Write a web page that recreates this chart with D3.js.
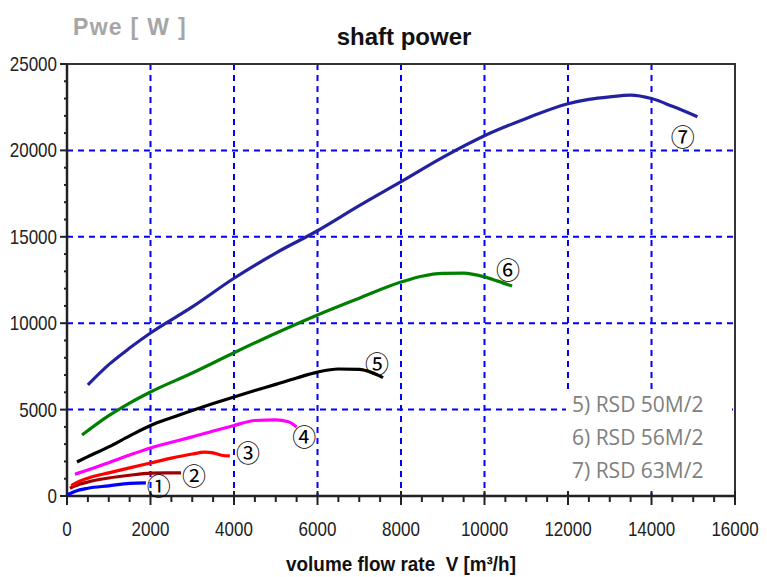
<!DOCTYPE html>
<html><head><meta charset="utf-8">
<script src="https://cdn.jsdelivr.net/npm/d3@7"></script>
<style>
html,body{margin:0;padding:0;background:#fff;}
svg{display:block;}
</style></head>
<body>
<svg id="chart" width="767" height="577"></svg>
<script>
// ---- data ----
const xTickValues = [0, 2000, 4000, 6000, 8000, 10000, 12000, 14000, 16000];
const yTickValues = [0, 5000, 10000, 15000, 20000, 25000];
const legendLines = ["5) RSD 50M/2", "6) RSD 56M/2", "7) RSD 63M/2"];
const markers = ["①", "②", "③", "④", "⑤", "⑥", "⑦"];

const s1x = [0, 200, 500, 1000, 1500, 1890];
const s1y = [60, 280, 450, 590, 730, 760];
const s2x = [70, 300, 500, 1000, 1500, 2000, 2400, 2730];
const s2y = [450, 680, 810, 1040, 1200, 1320, 1340, 1340];
const s3x = [100, 300, 500, 1000, 1500, 2000, 2500, 3000, 3300, 3500, 3700, 3900];
const s3y = [600, 850, 1030, 1340, 1630, 1910, 2190, 2430, 2540, 2500, 2360, 2320];
const s4x = [190, 500, 1000, 1500, 2000, 2500, 3000, 3500, 4000, 4500, 5000, 5300, 5500];
const s4y = [1260, 1500, 1930, 2370, 2780, 3110, 3420, 3760, 4080, 4370, 4400, 4300, 4000];
const s5x = [240, 500, 1000, 1500, 2000, 2500, 3000, 3500, 4000, 4500, 5000, 5500, 6000, 6500, 7000, 7300, 7570];
const s5y = [1970, 2280, 2840, 3480, 4080, 4530, 4950, 5350, 5730, 6100, 6460, 6830, 7170, 7350, 7330, 7150, 6850];
const s6x = [360, 1000, 1500, 2000, 3000, 4000, 5000, 6000, 7000, 8000, 8500, 9000, 9500, 10000, 10300, 10660];
const s6y = [3530, 4650, 5380, 6020, 7120, 8290, 9420, 10480, 11450, 12380, 12720, 12880, 12900, 12680, 12450, 12150];
const s7x = [500, 1000, 1500, 2000, 3000, 4000, 5000, 6000, 7000, 8000, 9000, 10000, 11000, 12000, 12500, 13000, 13500, 14000, 14500, 15100];
const s7y = [6430, 7600, 8560, 9430, 10940, 12600, 14060, 15350, 16800, 18190, 19600, 20850, 21850, 22700, 22950, 23100, 23200, 23000, 22550, 21950];

// marker anchor values (x, y in data units)
const markerX = [2200, 3040, 4335, 5680, 7425, 10560, 14750];
const markerY = [690, 1270, 2600, 3530, 7700, 13140, 20890];

const seriesColors = ["#0000ff", "#a00000", "#ff0000", "#ff00ff", "#000000", "#008000", "#2222a0"];

// ---- layout ----
const svg = d3.select("#chart");
const x = d3.scaleLinear().domain([0, 16000]).range([67, 735]);
const y = d3.scaleLinear().domain([0, 25000]).range([496, 64]);

// grid
const g = svg.append("g");
g.selectAll("line.vg").data(xTickValues.slice(1, -1)).enter().append("line")
  .attr("x1", d => x(d)).attr("x2", d => x(d)).attr("y1", y(25000)).attr("y2", y(0))
  .attr("stroke", "#0000ff").attr("stroke-width", 2).attr("stroke-dasharray", "6,5");
g.selectAll("line.hg").data(yTickValues.slice(1, -1)).enter().append("line")
  .attr("x1", x(0)).attr("x2", x(16000)).attr("y1", d => y(d)).attr("y2", d => y(d))
  .attr("stroke", "#0000ff").attr("stroke-width", 2).attr("stroke-dasharray", "6,5");

// legend background box
svg.append("rect").attr("x", 566).attr("y", 392).attr("width", 166).attr("height", 98).attr("fill", "#fff");

// frame
svg.append("rect").attr("x", x(0)).attr("y", y(25000)).attr("width", x(16000) - x(0)).attr("height", y(0) - y(25000))
  .attr("fill", "none").attr("stroke", "#333").attr("stroke-width", 2);

// axes
const minorX = d3.range(0, 16001, 500);
const minorY = d3.range(0, 25001, 1000);
svg.append("g").selectAll("line").data(minorX).enter().append("line")
  .attr("x1", d => x(d)).attr("x2", d => x(d))
  .attr("y1", d => d % 2000 === 0 ? y(0) - 5 : y(0)).attr("y2", d => d % 2000 === 0 ? y(0) + 9 : y(0) + 6)
  .attr("stroke", "#222").attr("stroke-width", 2);
svg.append("g").selectAll("line").data(minorY).enter().append("line")
  .attr("y1", d => y(d)).attr("y2", d => y(d))
  .attr("x1", d => d % 5000 === 0 ? x(0) - 7 : x(0) - 3).attr("x2", x(0))
  .attr("stroke", "#222").attr("stroke-width", 2);
svg.append("line").attr("x1", x(0)).attr("x2", x(16000)).attr("y1", y(0)).attr("y2", y(0)).attr("stroke", "#222").attr("stroke-width", 2.5);
svg.append("line").attr("x1", x(0)).attr("x2", x(0)).attr("y1", y(0)).attr("y2", y(25000)).attr("stroke", "#222").attr("stroke-width", 2.5);

const tickFont = "'Liberation Sans', Arial, sans-serif";
svg.append("g").selectAll("text").data(xTickValues).enter().append("text")
  .attr("transform", d => `translate(${x(d)},536) scale(0.85,1)`).attr("text-anchor", "middle")
  .attr("font-family", tickFont).attr("font-size", 20).attr("fill", "#222").text(d => d);
svg.append("g").selectAll("text").data(yTickValues).enter().append("text")
  .attr("transform", d => `translate(57,${y(d) + 7}) scale(0.85,1)`).attr("text-anchor", "end")
  .attr("font-family", tickFont).attr("font-size", 20).attr("fill", "#222").text(d => d);

// series
const allX = [s1x, s2x, s3x, s4x, s5x, s6x, s7x];
const allY = [s1y, s2y, s3y, s4y, s5y, s6y, s7y];
const line = d3.line().x(d => x(d[0])).y(d => y(d[1])).curve(d3.curveMonotoneX);
allX.forEach((xs, i) => {
  const pts = xs.map((v, j) => [v, allY[i][j]]);
  svg.append("path").datum(pts).attr("d", line).attr("fill", "none")
    .attr("stroke", seriesColors[i]).attr("stroke-width", 3.2).attr("stroke-linejoin", "round");
});

// circled markers
svg.append("g").selectAll("text").data(markers).enter().append("text")
  .attr("x", (d, i) => x(markerX[i])).attr("y", (d, i) => y(markerY[i]))
  .attr("text-anchor", "middle").attr("dominant-baseline", "central")
  .attr("font-family", "'Noto Sans CJK JP', 'DejaVu Sans', serif")
  .attr("font-size", 24).attr("fill", "#000").text(d => d);

// legend text
svg.append("g").selectAll("text").data(legendLines).enter().append("text")
  .attr("x", 572).attr("y", (d, i) => 412 + i * 33)
  .attr("font-family", "'Open Sans', sans-serif").attr("font-size", 21).attr("fill", "#808080").text(d => d);

// titles
svg.append("text").attr("x", 404).attr("y", 45).attr("text-anchor", "middle")
  .attr("font-family", "'Liberation Sans', Arial, sans-serif").attr("font-weight", "bold").attr("font-size", 24)
  .attr("fill", "#111").text("shaft power");
svg.append("text").attr("x", 73).attr("y", 35)
  .attr("font-family", "'Liberation Sans', Arial, sans-serif").attr("font-weight", "bold").attr("font-size", 23)
  .attr("letter-spacing", 1.3)
  .attr("fill", "#a6a6a6").text("Pwe [ W ]");
svg.append("text").attr("transform", "translate(401,571) scale(0.9,1)").attr("text-anchor", "middle")
  .attr("font-family", tickFont).attr("font-size", 21).attr("font-weight", 600).attr("fill", "#111")
  .text("volume flow rate\u00a0 V [m³/h]");
</script>
</body></html>
